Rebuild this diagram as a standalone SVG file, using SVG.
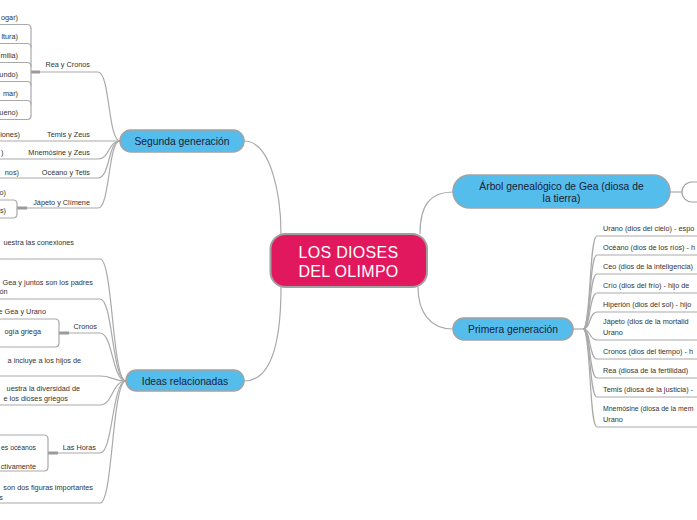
<svg xmlns="http://www.w3.org/2000/svg" width="697" height="520" viewBox="0 0 697 520">
<defs>
<style>
.c{fill:none;stroke:#a9a9a9;stroke-width:1.2}
.k{fill:none;stroke:#9a9a9a;stroke-width:3}
.n{fill:#55bdec;stroke:#a2a2a2;stroke-width:1.5}
.nt{font-family:"Liberation Sans",Arial,sans-serif;font-size:10.3px;fill:#1b1b35;text-anchor:middle}
.t{font-family:"Liberation Sans",Arial,sans-serif;font-size:7.3px;fill:#333333}
.e{text-anchor:end}
</style>
</defs>
<rect width="697" height="520" fill="#ffffff"/>
<g id="connectors">
  <path class="c" d="M244,141 C271,141 281,195 281,234"/>
  <path class="c" d="M281,287 C281,345 271,381 244,381"/>
  <path class="c" d="M453,192 C430,192 420,205 420,234"/>
  <path class="c" d="M418,287 C418,312 430,329 453,329"/>
  <path class="c" d="M670,192 H682"/>
  <path class="c" d="M573,329 H583"/>
  <path class="c" d="M583,329 C591,329 589,236 597,236 H697"/>
  <path class="c" d="M583,329 C591,329 589,255 597,255 H697"/>
  <path class="c" d="M583,329 C591,329 589,274 597,274 H697"/>
  <path class="c" d="M583,329 C591,329 589,293 597,293 H697"/>
  <path class="c" d="M583,329 C591,329 589,312 597,312 H697"/>
  <path class="c" d="M583,329 C591,329 589,340 597,340 H697"/>
  <path class="c" d="M583,329 C591,329 589,359 597,359 H697"/>
  <path class="c" d="M583,329 C591,329 589,378 597,378 H697"/>
  <path class="c" d="M583,329 C591,329 589,397 597,397 H697"/>
  <path class="c" d="M583,329 C591,329 589,427 597,427 H697"/>
  <path class="c" d="M120,141 C108,141 110,72 98,72 H40"/>
  <path class="k" d="M31,72 H40"/>
  <path class="c" d="M31,28 V116"/>
  <path class="c" d="M0,24.5 H27 Q31,24.5 31,28.5"/>
  <path class="c" d="M0,43.5 H27 Q31,43.5 31,47.5"/>
  <path class="c" d="M0,62.5 H27 Q31,62.5 31,66.5"/>
  <path class="c" d="M0,81.5 H27 Q31,81.5 31,85.5"/>
  <path class="c" d="M0,100.5 H27 Q31,100.5 31,104.5"/>
  <path class="c" d="M0,119.5 H27 Q31,119.5 31,115.5"/>
  <path class="c" d="M120,141 H0"/>
  <path class="c" d="M120,141 C108,141 110,159 98,159 H0"/>
  <path class="c" d="M120,141 C108,141 110,178 98,178 H0"/>
  <path class="c" d="M120,141 C108,141 110,208 98,208 H27"/>
  <path class="k" d="M17,208 H27"/>
  <path class="c" d="M0,200 H13 Q17,200 17,204 V214 Q17,218 13,218 H0"/>
  <path class="c" d="M126,381 C112,381 113,259 100,259 H0"/>
  <path class="c" d="M126,381 C112,381 113,299 100,299 H0"/>
  <path class="c" d="M126,381 C112,381 113,333 100,333 H69"/>
  <path class="k" d="M59,333 H69"/>
  <path class="c" d="M0,319 H55 Q59,319 59,323 V343 Q59,347 55,347 H0"/>
  <path class="c" d="M126,381 C112,381 113,376 100,376 H0"/>
  <path class="c" d="M126,381 C112,381 113,405 100,405 H0"/>
  <path class="c" d="M126,381 C112,381 113,453 100,453 H58"/>
  <path class="k" d="M48,453 H58"/>
  <path class="c" d="M0,435 H44 Q48,435 48,439 V467 Q48,471 44,471 H0"/>
  <path class="c" d="M126,381 C112,381 113,503 100,503 H0"/>
</g>
<g id="n-central">
  <rect x="270.5" y="234" width="156.5" height="53" rx="15" fill="#e2185e" stroke="#a0a0a0" stroke-width="2"/>
  <text x="348.5" y="258" font-family="Liberation Sans, Arial, sans-serif" font-size="16" fill="#ffffff" text-anchor="middle" letter-spacing="0.3">LOS DIOSES</text>
  <text x="348.5" y="277" font-family="Liberation Sans, Arial, sans-serif" font-size="16" fill="#ffffff" text-anchor="middle" letter-spacing="0.3">DEL OLIMPO</text>
</g>
<g id="n-segunda">
  <rect class="n" x="120" y="130" width="124" height="22" rx="11"/>
  <text class="nt" x="182" y="144.6">Segunda generación</text>
</g>
<g id="n-ideas">
  <rect class="n" x="126" y="370" width="118" height="21" rx="10.5"/>
  <text class="nt" x="185" y="384.5">Ideas relacionadas</text>
</g>
<g id="n-arbol">
  <rect class="n" x="453" y="175" width="217" height="33" rx="16.5"/>
  <text class="nt" x="561.5" y="189.7">Árbol genealógico de Gea (diosa de</text>
  <text class="nt" x="561.5" y="201.7">la tierra)</text>
</g>
<g id="n-arbol-child">
  <rect x="682" y="182" width="40" height="20" rx="10" fill="#ffffff" stroke="#a2a2a2" stroke-width="1.2"/>
</g>
<g id="n-primera">
  <rect class="n" x="453" y="318" width="120" height="22" rx="11"/>
  <text class="nt" x="513" y="332.6">Primera generación</text>
</g>
<g id="primera-children">
  <text class="t" x="603" y="230.6">Urano (dios del cielo) - espo</text>
  <text class="t" x="603" y="249.6">Océano (dios de los ríos) - h</text>
  <text class="t" x="603" y="268.6">Ceo (dios de la inteligencia)</text>
  <text class="t" x="603" y="287.6">Crío (dios del frío) - hijo de</text>
  <text class="t" x="603" y="306.6">Hiperión (dios del sol) - hijo</text>
  <text class="t" x="603" y="323.6">Jápeto (dios de la mortalid</text>
  <text class="t" x="603" y="334.6">Urano</text>
  <text class="t" x="603" y="353.6">Cronos (dios del tiempo) - h</text>
  <text class="t" x="603" y="372.6">Rea (diosa de la fertilidad)</text>
  <text class="t" x="603" y="391.6">Temis (diosa de la justicia) -</text>
  <text class="t" x="603" y="410.6" style="font-size:6.9px">Mnemósine (diosa de la mem</text>
  <text class="t" x="603" y="421.6">Urano</text>
</g>
<g id="segunda-children">
  <text class="t e" x="90" y="66.6">Rea y Cronos</text>
  <text class="t e" x="90" y="136.6">Temis y Zeus</text>
  <text class="t e" x="90" y="154.6">Mnemósine y Zeus</text>
  <text class="t e" x="90" y="174.6">Océano y Tetis</text>
  <text class="t e" x="90" y="204.6">Jápeto y Clímene</text>
</g>
<g id="segunda-grandchildren">
  <text class="t e" x="18" y="19.6">ogar)</text>
  <text class="t e" x="18" y="38.6">ltura)</text>
  <text class="t e" x="18" y="57.6">milia)</text>
  <text class="t e" x="18" y="76.6">undo)</text>
  <text class="t e" x="18" y="95.6">mar)</text>
  <text class="t e" x="18" y="114.6">ueno)</text>
  <text class="t e" x="20" y="136.6">iones)</text>
  <text class="t e" x="3.5" y="154.6">)</text>
  <text class="t e" x="19" y="174.6">nos)</text>
  <text class="t e" x="6" y="194.6">o)</text>
  <text class="t e" x="6" y="213">s)</text>
</g>
<g id="ideas-children">
  <text class="t e" x="74" y="244.6">uestra las conexiones</text>
  <text class="t e" x="93" y="284.6">Gea y juntos son los padres</text>
  <text class="t e" x="7.5" y="294.3">ón</text>
  <text class="t e" x="46" y="313.6">e Gea y Urano</text>
  <text class="t e" x="41" y="333.6">ogía griega</text>
  <text class="t e" x="97" y="328.6">Cronos</text>
  <text class="t e" x="81" y="362.6">a incluye a los hijos de</text>
  <text class="t e" x="80" y="390.6">uestra la diversidad de</text>
  <text class="t e" x="68" y="400.6">e los dioses griegos</text>
  <text class="t e" x="96" y="449.6">Las Horas</text>
  <text class="t e" x="36" y="449.6" textLength="35" lengthAdjust="spacingAndGlyphs">es océanos</text>
  <text class="t e" x="36" y="468.6">ctivamente</text>
  <text class="t e" x="93" y="489.6">son dos figuras importantes</text>
  <text class="t e" x="3" y="499.6">s</text>
</g>
</svg>
